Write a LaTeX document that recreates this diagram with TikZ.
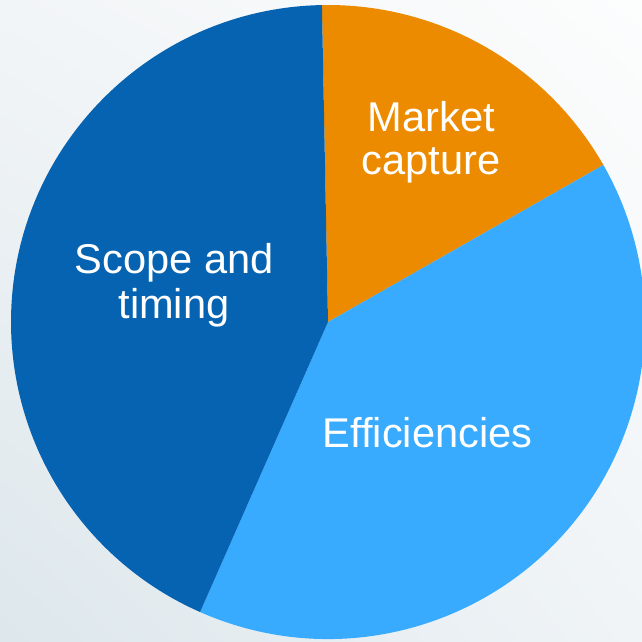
\documentclass[tikz,border=0pt]{standalone}
\usepackage{fontspec}
\setmainfont{Liberation Sans}
\usetikzlibrary{shadings}
\definecolor{darkblue}{RGB}{5,99,177}
\definecolor{orangeslice}{RGB}{236,139,0}
\definecolor{lightblue}{RGB}{56,171,255}
\definecolor{bgUL}{RGB}{242,245,247}
\definecolor{bgUR}{RGB}{252,253,253}
\definecolor{bgLL}{RGB}{221,231,236}
\definecolor{bgLR}{RGB}{240,244,247}
\tikzset{
  slicelabel/.style={text=white, font=\fontsize{41.6}{45}\selectfont, anchor=base, inner sep=0pt},
}
\begin{document}
\begin{tikzpicture}[x=1pt,y=1pt]
\useasboundingbox (0,0) rectangle (642,641);
\clip (0,0) rectangle (642,641);
\shade[upper left=bgUL, upper right=bgUR, lower left=bgLL, lower right=bgLR] (0,0) rectangle (642,641);
\coordinate (c) at (328,319);
\def\R{317}
% slices
\fill[orangeslice] (c) -- ++(29.7:\R) arc[start angle=29.7, end angle=91.1, radius=\R] -- cycle;
\fill[lightblue] (c) -- ++(-113.8:\R) arc[start angle=-113.8, end angle=29.7, radius=\R] -- cycle;
\fill[darkblue] (c) -- ++(91.1:\R) arc[start angle=91.1, end angle=246.2, radius=\R] -- cycle;
% labels
\node[slicelabel] (m1) at (431.5,509) {Market};
\node[slicelabel] (m2) at (431,466) {capture};
\node[slicelabel] (s1) at (174,368) {Scope and};
\node[slicelabel] (s2) at (174,323) {timing};
\node[slicelabel] (e1) at (427.5,194) {Efficiencies};
\end{tikzpicture}
\end{document}
